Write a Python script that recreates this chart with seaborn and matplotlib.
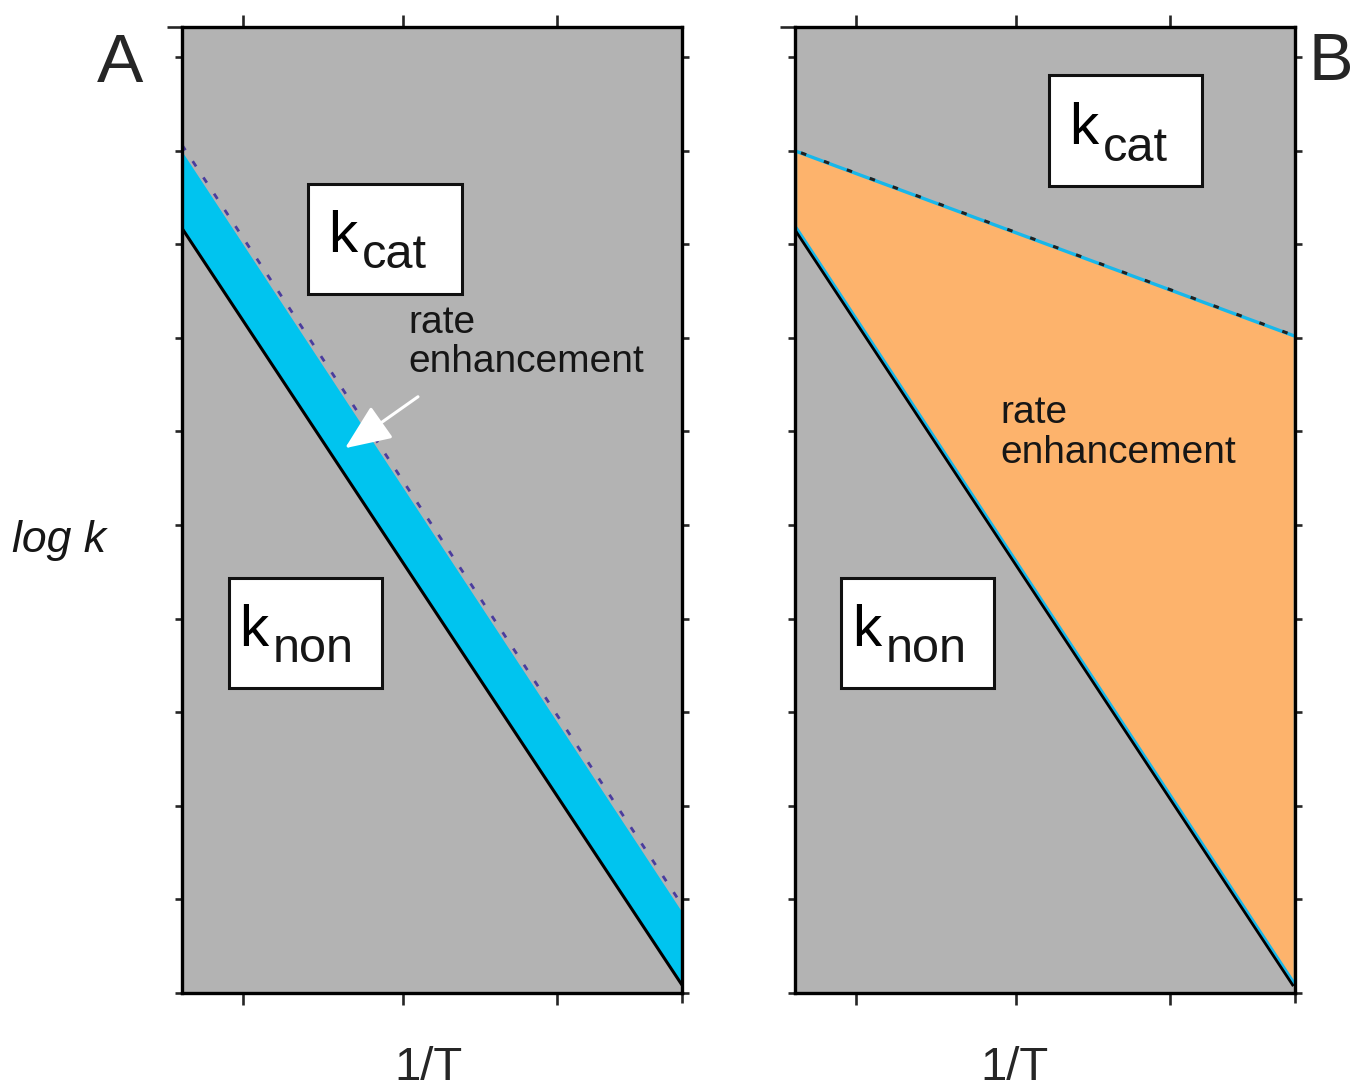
import numpy as np
import pandas as pd
import matplotlib
matplotlib.use("Agg")
import matplotlib.pyplot as plt
import matplotlib.transforms as mtransforms
import seaborn as sns

# ---- data (x = 1/T scaled 0..1, y = log k in arbitrary units) ----
x_ends = [0.0, 1.0]

# Panel A: parallel lines (constant rate enhancement)
knon_A = [8.17, 0.085]
band_top_A = [8.99, 0.865]
kcat_A = [9.06, 0.94]

# Panel B: diverging lines (rate enhancement grows with 1/T)
knon_B = [8.19, 0.085]
kcat_B = [9.00, 7.02]

x_ticks = [0.122, 0.442, 0.75]
x_edge_tick = [1.0]
y_ticks = list(range(0, 11))
y_top = 10.32

# ---- styling ----
sns.set_style("white")
plt.rcParams["font.family"] = ["Liberation Sans", "DejaVu Sans"]
plt.rcParams["lines.scale_dashes"] = False
plt.rcParams["lines.solid_capstyle"] = "butt"

GRAY = "#b3b3b3"
BLUE = "#00c4ef"
ORANGE = "#fdb36c"
CYAN = "#18b7ea"
PURPLE = "#4a3c9e"
TEXT = "#161616"

fig = plt.figure(figsize=(13.54, 10.89), dpi=100)
W, H = 1354, 1089
axA = fig.add_axes([182 / W, (H - 993) / H, 500 / W, 966 / H])
axB = fig.add_axes([795 / W, (H - 993) / H, 500 / W, 966 / H])


def frame(ax):
    ax.set_facecolor(GRAY)
    ax.set_xlim(0, 1)
    ax.set_ylim(0, y_top)
    for s in ax.spines.values():
        s.set_visible(True)
        s.set_linewidth(2.4)
        s.set_color("black")
        s.set_zorder(5)
    ax.set_xticks(x_ticks)
    ax.set_xticks(x_edge_tick, minor=True)
    ax.set_yticks(y_ticks)
    ax.set_yticks([y_top], minor=True)
    ax.tick_params(axis="x", which="major", top=True, bottom=True,
                   direction="out", length=8.5, width=1.9,
                   labelbottom=False, labeltop=False)
    ax.tick_params(axis="x", which="minor", top=False, bottom=True,
                   direction="out", length=7.5, width=1.9, labelbottom=False)
    ax.tick_params(axis="y", which="major", left=True, right=True,
                   direction="out", length=5, width=1.9,
                   labelleft=False, labelright=False)
    ax.tick_params(axis="y", which="minor", left=True, right=False,
                   direction="out", length=11, width=1.9, labelleft=False)
    ax.set_xlabel("")
    ax.set_ylabel("")


K_SIZE = 42
SUB_SIZE = 35
K_DESCENT_PX = 0.212 * K_SIZE * 100 / 72


def rate_box(ax, x0, x1, y0, y1, kx, ky, sub):
    ax.add_patch(plt.Rectangle((x0, y0), x1 - x0, y1 - y0, facecolor="white",
                               edgecolor="#111111", linewidth=2.2, zorder=4))
    kt = ax.text(kx, ky, "k", fontsize=K_SIZE, color="black", ha="left",
                 va="baseline", zorder=6)
    # subscript sits 17 px below the baseline of "k"
    ax.annotate(sub, xy=(1, 0), xycoords=kt,
                xytext=(5, K_DESCENT_PX - 17), textcoords="offset pixels",
                fontsize=SUB_SIZE, color=TEXT, ha="left", va="baseline",
                zorder=6)


# ---- Panel A ----
frame(axA)
axA.fill_between(x_ends, knon_A, band_top_A, color=BLUE, linewidth=0, zorder=1)
dfA = pd.DataFrame({"x": x_ends, "knon": knon_A, "kcat": kcat_A})
sns.lineplot(data=dfA, x="x", y="knon", ax=axA, color="black", lw=2.2, zorder=3)
sns.lineplot(data=dfA, x="x", y="kcat", ax=axA, color=PURPLE, lw=2.0, zorder=3)
axA.lines[-1].set_linestyle((0, (4.5, 9.5)))

rate_box(axA, 0.252, 0.56, 7.47, 8.64, 0.292, 7.92, "cat")
rate_box(axA, 0.094, 0.40, 3.26, 4.43, 0.114, 3.71, "non")

axA.text(0.452, 7.05, "rate", fontsize=28, color=TEXT, ha="left", va="baseline")
axA.text(0.452, 6.63, "enhancement", fontsize=28, color=TEXT, ha="left",
         va="baseline")
axA.annotate("", xy=(0.326, 5.82), xytext=(0.472, 6.37),
             arrowprops=dict(arrowstyle="-|>,head_length=1.3,head_width=0.55",
                             color="white", lw=2.2, mutation_scale=22,
                             shrinkA=0, shrinkB=0), zorder=4)

# ---- Panel B ----
frame(axB)
axB.fill_between(x_ends, knon_B, kcat_B, facecolor=ORANGE, edgecolor=CYAN,
                 linewidth=2.4, zorder=1)
dfB = pd.DataFrame({"x": x_ends, "knon": knon_B, "kcat": kcat_B})
shift = mtransforms.offset_copy(axB.transData, fig=fig, x=-1.6, y=-1.1,
                                units="dots")
sns.lineplot(data=dfB, x="x", y="knon", ax=axB, color="black", lw=2.0, zorder=3)
axB.lines[-1].set_transform(shift)
sns.lineplot(data=dfB, x="x", y="kcat", ax=axB, color="#202020", lw=2.2,
             zorder=3)
axB.lines[-1].set_linestyle((13, (4.0, 13.6)))

rate_box(axB, 0.508, 0.814, 8.62, 9.81, 0.548, 9.07, "cat")
rate_box(axB, 0.092, 0.398, 3.26, 4.43, 0.114, 3.71, "non")

axB.text(0.41, 6.09, "rate", fontsize=28, color=TEXT, ha="left", va="baseline")
axB.text(0.41, 5.66, "enhancement", fontsize=28, color=TEXT, ha="left",
         va="baseline")

# ---- axis titles and panel letters ----
fig.text((182 + 0.492 * 500) / W, 1 - 1080 / H, "1/T", fontsize=34,
         ha="center", va="baseline")
fig.text((795 + 0.44 * 500) / W, 1 - 1080 / H, "1/T", fontsize=34,
         ha="center", va="baseline")
fig.text(97 / W, 1 - 82 / H, "A", fontsize=50, va="baseline", ha="left")
fig.text(1308 / W, 1 - 80 / H, "B", fontsize=48, va="baseline", ha="left")
fig.text(12 / W, 1 - 552 / H, "log k", fontsize=32, style="italic",
         va="baseline", ha="left", color=TEXT)

fig.savefig("out.png", dpi=100, facecolor="white")
